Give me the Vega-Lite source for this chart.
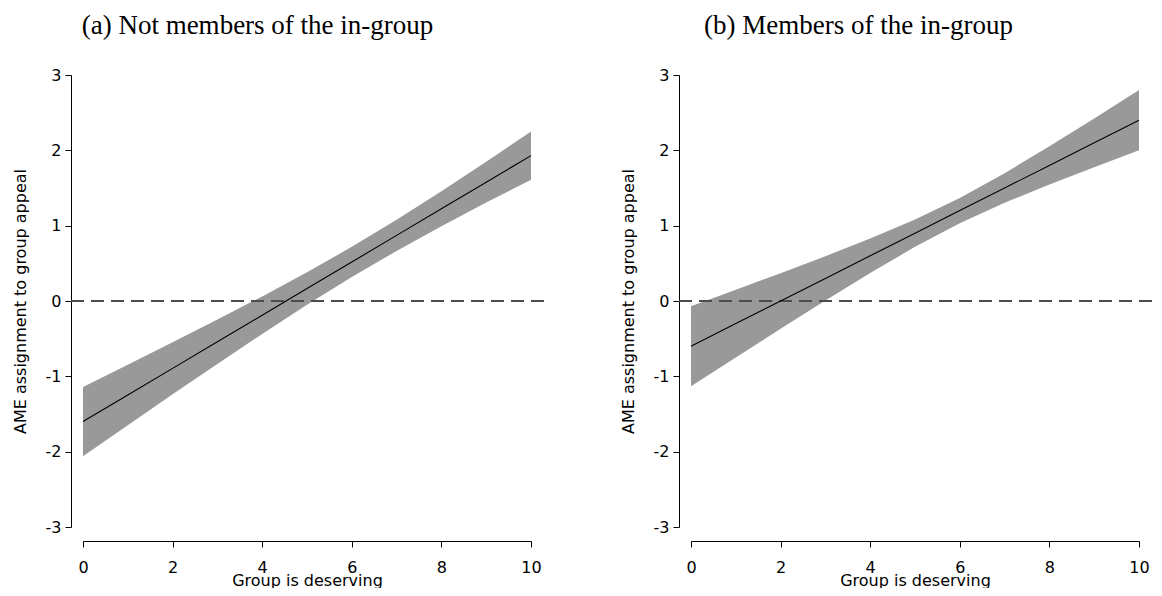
{
  "$schema": "https://vega.github.io/schema/vega-lite/v6.json",
  "background": "white",
  "padding": {"left": 12, "top": 12, "right": 0, "bottom": 0},
  "config": {
    "view": {"stroke": null},
    "font": "DejaVu Sans",
    "axis": {
      "labelFont": "DejaVu Sans",
      "titleFont": "DejaVu Sans",
      "labelFontSize": 16,
      "titleFontSize": 16,
      "titleFontWeight": "normal",
      "labelColor": "#000000",
      "titleColor": "#000000",
      "domainColor": "#000000",
      "tickColor": "#000000",
      "grid": false,
      "tickSize": 6,
      "domainWidth": 1,
      "tickWidth": 1
    },
    "title": {"font": "Liberation Serif", "fontSize": 27, "fontWeight": "normal", "color": "#000000"},
    "concat": {"spacing": 75}
  },
  "datasets": {
    "a": [
      {"x": 0, "est": -1.600, "lo": -2.060, "hi": -1.140},
      {"x": 1, "est": -1.247, "lo": -1.648, "hi": -0.846},
      {"x": 2, "est": -0.894, "lo": -1.239, "hi": -0.549},
      {"x": 3, "est": -0.541, "lo": -0.835, "hi": -0.247},
      {"x": 4, "est": -0.188, "lo": -0.437, "hi": 0.061},
      {"x": 5, "est": 0.165, "lo": -0.051, "hi": 0.381},
      {"x": 6, "est": 0.518, "lo": 0.317, "hi": 0.719},
      {"x": 7, "est": 0.871, "lo": 0.665, "hi": 1.077},
      {"x": 8, "est": 1.224, "lo": 0.992, "hi": 1.456},
      {"x": 9, "est": 1.577, "lo": 1.306, "hi": 1.848},
      {"x": 10, "est": 1.930, "lo": 1.610, "hi": 2.250}
    ],
    "b": [
      {"x": 0, "est": -0.600, "lo": -1.130, "hi": -0.070},
      {"x": 1, "est": -0.300, "lo": -0.749, "hi": 0.149},
      {"x": 2, "est": 0.000, "lo": -0.370, "hi": 0.370},
      {"x": 3, "est": 0.300, "lo": 0.005, "hi": 0.595},
      {"x": 4, "est": 0.600, "lo": 0.371, "hi": 0.829},
      {"x": 5, "est": 0.900, "lo": 0.719, "hi": 1.081},
      {"x": 6, "est": 1.200, "lo": 1.032, "hi": 1.368},
      {"x": 7, "est": 1.500, "lo": 1.303, "hi": 1.697},
      {"x": 8, "est": 1.800, "lo": 1.547, "hi": 2.053},
      {"x": 9, "est": 2.100, "lo": 1.777, "hi": 2.423},
      {"x": 10, "est": 2.400, "lo": 2.000, "hi": 2.800}
    ]
  },
  "hconcat": [
    {
      "width": 473,
      "height": 466,
      "title": {"text": "(a) Not members of the in-group", "frame": "group", "anchor": "middle", "dx": -50, "offset": 6, "baseline": "alphabetic"},
      "data": {"name": "a"},
      "layer": [
        {
          "mark": {"type": "area", "color": "#999999", "opacity": 1},
          "encoding": {
            "x": {"field": "x", "type": "quantitative", "scale": {"domain": [0, 10], "range": [12, 460]},
              "axis": {"values": [0, 2, 4, 6, 8, 10], "title": "Group is deserving", "labelFlush": false, "labelPadding": 12, "titlePadding": -3}},
            "y": {"field": "lo", "type": "quantitative", "scale": {"domain": [-3, 3], "range": [452, 0]},
              "axis": {"values": [-3, -2, -1, 0, 1, 2, 3], "title": "AME assignment to group appeal", "labelExpr": "datum.value + ''", "labelPadding": 4, "titlePadding": 17, "labelFlush": false}},
            "y2": {"field": "hi"}
          }
        },
        {
          "mark": {"type": "rule", "strokeDash": [13, 7], "color": "#4d4d4d", "strokeWidth": 1.2},
          "encoding": {"y": {"datum": 0}}
        },
        {
          "mark": {"type": "line", "color": "#000000", "strokeWidth": 1.1},
          "encoding": {
            "x": {"field": "x", "type": "quantitative"},
            "y": {"field": "est", "type": "quantitative"}
          }
        }
      ]
    },
    {
      "width": 473,
      "height": 466,
      "title": {"text": "(b) Members of the in-group", "frame": "group", "anchor": "middle", "dx": -57, "offset": 6, "baseline": "alphabetic"},
      "data": {"name": "b"},
      "layer": [
        {
          "mark": {"type": "area", "color": "#999999", "opacity": 1},
          "encoding": {
            "x": {"field": "x", "type": "quantitative", "scale": {"domain": [0, 10], "range": [12, 460]},
              "axis": {"values": [0, 2, 4, 6, 8, 10], "title": "Group is deserving", "labelFlush": false, "labelPadding": 12, "titlePadding": -3}},
            "y": {"field": "lo", "type": "quantitative", "scale": {"domain": [-3, 3], "range": [452, 0]},
              "axis": {"values": [-3, -2, -1, 0, 1, 2, 3], "title": "AME assignment to group appeal", "labelExpr": "datum.value + ''", "labelPadding": 4, "titlePadding": 17, "labelFlush": false}},
            "y2": {"field": "hi"}
          }
        },
        {
          "mark": {"type": "rule", "strokeDash": [13, 7], "color": "#4d4d4d", "strokeWidth": 1.2},
          "encoding": {"y": {"datum": 0}}
        },
        {
          "mark": {"type": "line", "color": "#000000", "strokeWidth": 1.1},
          "encoding": {
            "x": {"field": "x", "type": "quantitative"},
            "y": {"field": "est", "type": "quantitative"}
          }
        }
      ]
    }
  ]
}
